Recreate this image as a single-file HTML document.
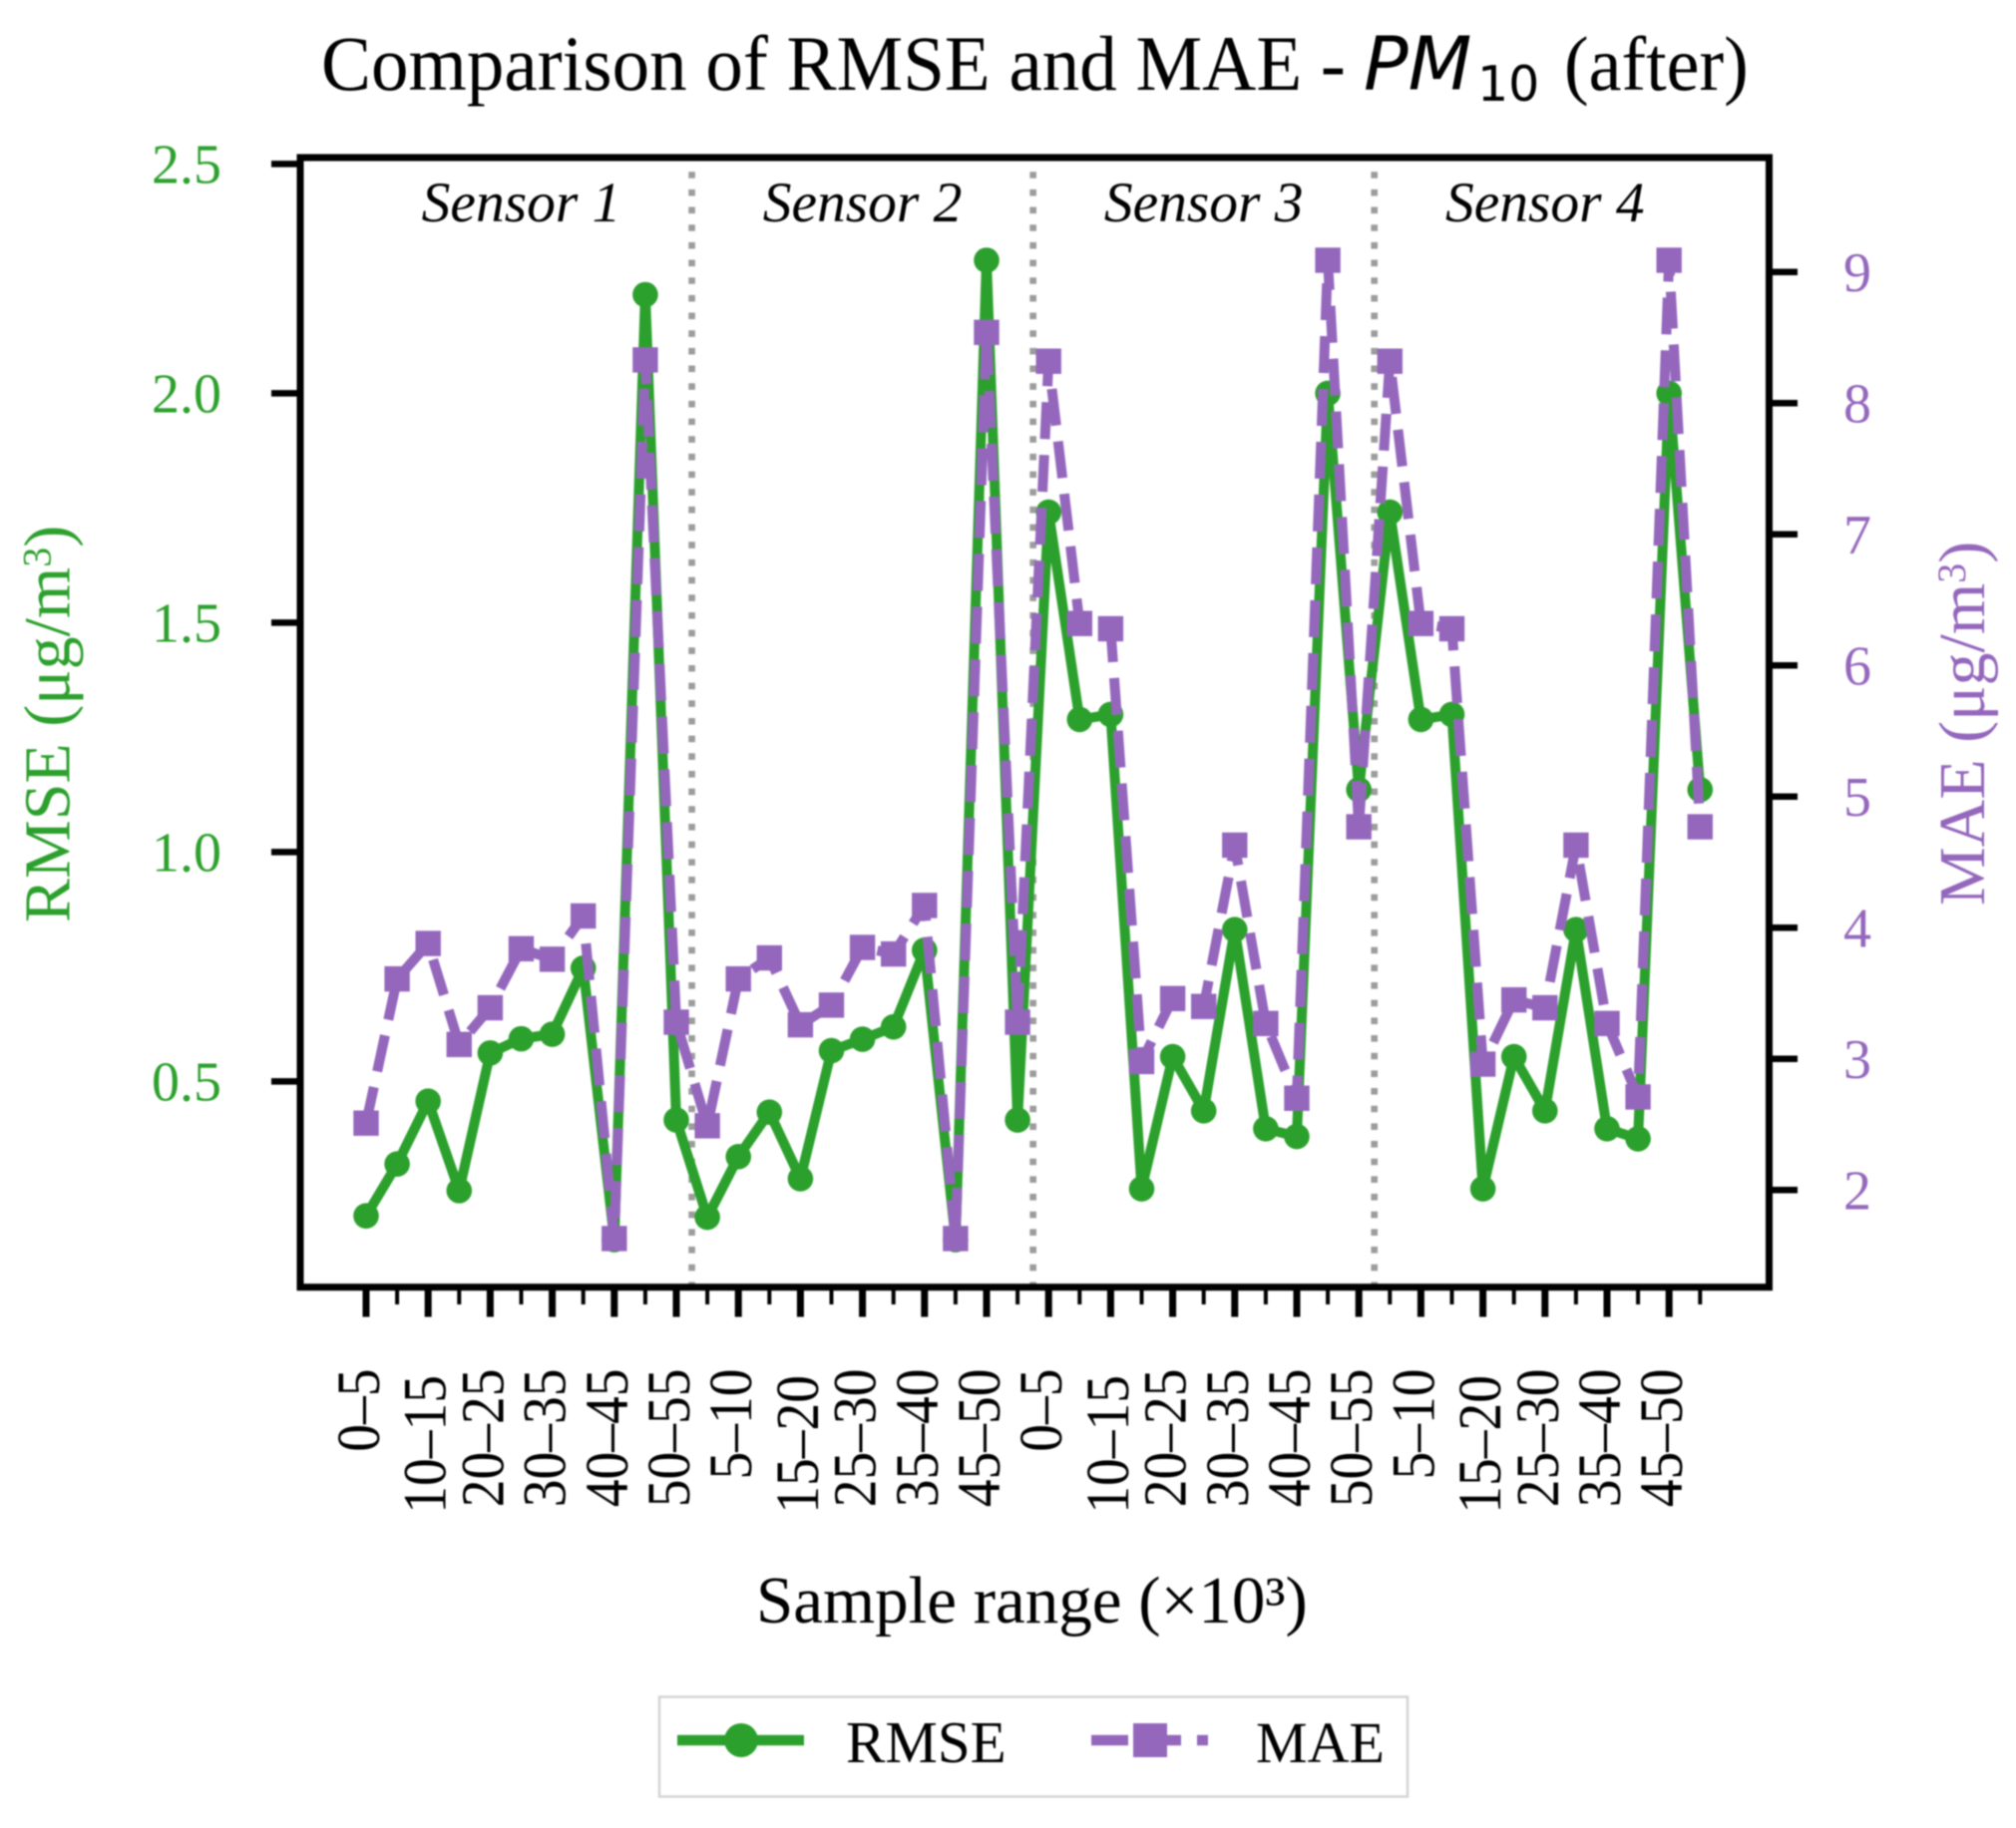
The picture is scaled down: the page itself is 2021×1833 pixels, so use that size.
<!DOCTYPE html>
<html lang="en">
<head>
<meta charset="utf-8">
<title>Comparison of RMSE and MAE - PM10 (after)</title>
<style>
html,body{margin:0;padding:0;background:#fff;width:2021px;height:1833px;overflow:hidden}
svg{display:block;font-family:"Liberation Serif",serif;filter:blur(0.7px)}
</style>
</head>
<body>
<svg id="chart" xmlns="http://www.w3.org/2000/svg" width="2021" height="1833" viewBox="0 0 2021 1833">
  <rect x="0" y="0" width="2021" height="1833" fill="#fff"/>
  <g fill="#000">
    <text transform="translate(322,90) scale(1,1.04)" font-size="75">Comparison of RMSE and MAE -</text>
    <text x="1367" y="89.5" font-size="74" font-style="italic" style="font-family:'DejaVu Sans',sans-serif">PM</text>
    <text x="1481" y="101" font-size="49" style="font-family:'DejaVu Sans',sans-serif">10</text>
    <text transform="translate(1568,90) scale(1,1.04)" font-size="74">(after)</text>
  </g>
  <g id="dividers"></g>
  <g id="sensors" font-style="italic" font-size="57.5" fill="#000" text-anchor="middle"></g>
  <g id="series"></g>
  <rect x="301" y="158" width="1472.5" height="1132.7" fill="none" stroke="#000" stroke-width="7"/>
  <g id="xaxis"></g>
  <g id="yleft"></g>
  <g id="yright"></g>
  <text transform="translate(69.5,925) rotate(-90)" font-size="66" fill="#2ca02c">RMSE (μg/m<tspan dy="-19" font-size="40">3</tspan><tspan dy="19">)</tspan></text>
  <text transform="translate(1989,908) rotate(-90)" font-size="66" fill="#9467bd">MAE (μg/m<tspan dy="-19" font-size="40">3</tspan><tspan dy="19">)</tspan></text>
  <text x="758" y="1627" font-size="67" fill="#000">Sample range (×10³)</text>
  <g>
    <rect x="661" y="1701.5" width="750" height="100" fill="#fff" stroke="#d4d4d4" stroke-width="2.5"/>
    <g>
      <line x1="679" y1="1745" x2="806" y2="1745" stroke="#2ca02c" stroke-width="10.5"/>
      <circle cx="743" cy="1745" r="17" fill="#2ca02c"/>
      <text x="848" y="1767" font-size="59" fill="#000">RMSE</text>
    </g>
    <g>
      <line x1="1094" y1="1745" x2="1211" y2="1745" stroke="#9467bd" stroke-width="10.5" stroke-dasharray="37 16"/>
      <rect x="1136" y="1728" width="34" height="34" fill="#9467bd"/>
      <text x="1259" y="1767" font-size="58" fill="#000">MAE</text>
    </g>
  </g>
</svg>
<script>
const categories = [
  "0–5","5–10","10–15","15–20","20–25","25–30","30–35","35–40","40–45","45–50","50–55",
  "0–5","5–10","10–15","15–20","20–25","25–30","30–35","35–40","40–45","45–50","50–55",
  "0–5","5–10","10–15","15–20","20–25","25–30","30–35","35–40","40–45","45–50","50–55",
  "0–5","5–10","10–15","15–20","20–25","25–30","30–35","35–40","40–45","45–50","50–55"
];
// The x axis in the reference labels every other position, continuing across sensors.
const xTickLabels = [
  "0–5","10–15","20–25","30–35","40–45","50–55","5–10","15–20","25–30","35–40","45–50",
  "0–5","10–15","20–25","30–35","40–45","50–55","5–10","15–20","25–30","35–40","45–50"
];
const rmseValues = [
  0.207,0.32,0.457,0.262,0.562,0.593,0.603,0.747,0.155,2.215,0.416,
  0.204,0.336,0.433,0.288,0.567,0.592,0.619,0.786,0.155,2.29,0.416,
  1.741,1.289,1.30,0.266,0.554,0.436,0.831,0.397,0.38,2.0,1.136,
  1.741,1.289,1.30,0.266,0.554,0.436,0.831,0.397,0.375,2.0,1.136
];
const maeValues = [
  2.51,3.61,3.88,3.11,3.39,3.84,3.76,4.09,1.63,8.33,3.28,
  2.49,3.61,3.77,3.26,3.41,3.85,3.80,4.17,1.63,8.54,3.28,
  8.32,6.32,6.28,2.98,3.46,3.40,4.63,3.27,2.70,9.09,4.77,
  8.32,6.32,6.28,2.96,3.45,3.39,4.63,3.27,2.71,9.09,4.77
];
const rmseTicks = [0.5,1.0,1.5,2.0,2.5];
const rmseTickLabels = ["0.5","1.0","1.5","2.0","2.5"];
const maeTicks = [2,3,4,5,6,7,8,9];
const maeTickLabels = ["2","3","4","5","6","7","8","9"];
const sensorNames = ["Sensor 1","Sensor 2","Sensor 3","Sensor 4"];
const sensorSize = 11;

const NS = "http://www.w3.org/2000/svg";
function xScale(i){ return 367 + 31.1 * i; }
function yRmse(v){ return 1084.4 - (v - 0.5) * 460; }
function yMae(v){ return 1193.3 - (v - 2) * 131.5; }
function mk(parent, tag, attrs, text){
  const el = document.createElementNS(NS, tag);
  for (const k in attrs) el.setAttribute(k, attrs[k]);
  if (text !== undefined) el.textContent = text;
  parent.appendChild(el);
  return el;
}
const GREEN = "#2ca02c", PURPLE = "#9467bd";

// dividers and sensor labels
const dividers = document.getElementById("dividers");
const sensors = document.getElementById("sensors");
sensorNames.forEach(function(name, s){
  const start = s * sensorSize;
  if (s > 0) {
    const bx = xScale(start - 0.5);
    const d = mk(dividers, "line", {x1:bx, y1:1292, x2:bx, y2:158, stroke:"#9c9c9c", "stroke-width":6.6, "stroke-dasharray":"6.6 11.07"});
    
    
  }
  const cx = xScale(start + 5);
  const t = mk(sensors, "text", {x:cx, y:222}, name);
  
  
});

// series
const seriesG = document.getElementById("series");
const rmsePts = rmseValues.map(function(v,i){ return xScale(i).toFixed(1)+","+yRmse(v).toFixed(1); }).join(" ");
const maePts = maeValues.map(function(v,i){ return xScale(i).toFixed(1)+","+yMae(v).toFixed(1); }).join(" ");
const rmseLine = mk(seriesG, "polyline", {points:rmsePts, fill:"none", stroke:GREEN, "stroke-width":10, "stroke-linejoin":"round"});


rmseValues.forEach(function(v,i){
  const c = mk(seriesG, "circle", {cx:xScale(i), cy:yRmse(v), r:12.8, fill:GREEN});
  
  
});
const maeLine = mk(seriesG, "polyline", {points:maePts, fill:"none", stroke:PURPLE, "stroke-width":10, "stroke-linejoin":"round", "stroke-dasharray":"37 16"});


maeValues.forEach(function(v,i){
  const r = mk(seriesG, "rect", {x:xScale(i)-12.7, y:yMae(v)-12.7, width:25.4, height:25.4, fill:PURPLE});
  
  
});

// x axis
const xaxis = document.getElementById("xaxis");
categories.forEach(function(cat,i){
  const major = i % 2 === 0;
  const tx = xScale(i);
  const tick = mk(xaxis, "line", {x1:tx, y1:1291, x2:tx, y2:major?1320.5:1308, stroke:"#000", "stroke-width":major?7:4});
  
  
});
xTickLabels.forEach(function(lab,j){
  const tx = xScale(j * 2);
  const one = lab.charAt(0) === "1";
  const lx = tx + (one ? 17.5 : 13);
  const ly = one ? 1379 : 1372.5;
  const t = mk(xaxis, "text", {transform:"translate("+lx.toFixed(1)+","+ly+") rotate(-90) scale(1,1.1)", "text-anchor":"end", "font-size":55.5, fill:"#000"}, lab);
  
  
});

// y axes
const yleft = document.getElementById("yleft");
rmseTicks.forEach(function(v,i){
  const y = yRmse(v);
  const tick = mk(yleft, "line", {x1:272, y1:y, x2:301, y2:y, stroke:"#000", "stroke-width":6.5});
  
  
  const t = mk(yleft, "text", {x:222, y:y+19, "text-anchor":"end", "font-size":56, fill:GREEN}, rmseTickLabels[i]);
  
  
});
const yright = document.getElementById("yright");
maeTicks.forEach(function(v,i){
  const y = yMae(v);
  const tick = mk(yright, "line", {x1:1773, y1:y, x2:1802, y2:y, stroke:"#000", "stroke-width":6.5});
  
  
  const t = mk(yright, "text", {x:1848, y:y+19, "font-size":56, fill:PURPLE}, maeTickLabels[i]);
  
  
});
</script>
</body>
</html>
